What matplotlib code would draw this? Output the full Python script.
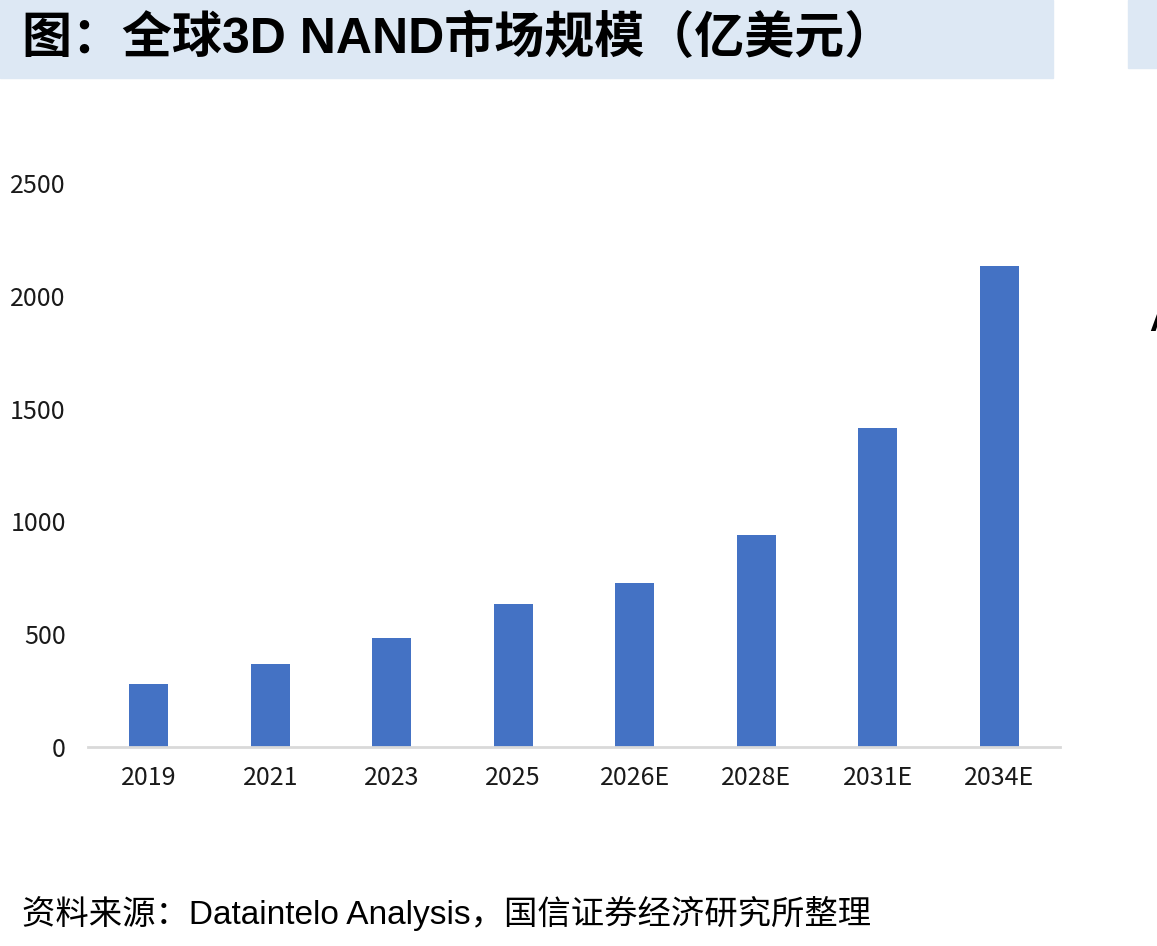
import matplotlib
matplotlib.use("Agg")
import matplotlib.pyplot as plt
from matplotlib.patches import Rectangle

# data (亿美元)
years = ["2019", "2021", "2023", "2025", "2026E", "2028E", "2031E", "2034E"]
market_size = [280, 368, 483, 634, 725, 940, 1414, 2132]
y_ticks = [0, 500, 1000, 1500, 2000, 2500]

title_text = "图：全球3D NAND市场规模（亿美元）"
source_text = "资料来源：Dataintelo Analysis，国信证券经济研究所整理"

W, H = 1157, 946
fig = plt.figure(figsize=(W / 100, H / 100), dpi=100)
fig.patch.set_facecolor("white")

# title band
band = "#dde8f4"
fig.patches.append(Rectangle((0, 1 - 78 / H), 1053 / W, 78 / H,
                             transform=fig.transFigure, color=band, zorder=0))
fig.patches.append(Rectangle((1128 / W, 1 - 68 / H), (W - 1128) / W, 68 / H,
                             transform=fig.transFigure, color=band, zorder=0))
fig.text(22 / W, 1 - 39 / H, title_text, fontsize=36, fontweight="bold",
         family=["Liberation Sans", "Noto Sans CJK SC"], va="center", ha="left")

# cut-off letter from neighbouring panel (also cut off in the reference)
fig.text(1149 / W, 1 - 322 / H, "A", fontsize=24, fontweight="bold",
         family=["Liberation Sans"], va="center", ha="left")

ax = fig.add_axes([88 / W, (H - 747) / H, (1060 - 88) / W, (747 - 183) / H])
x = range(len(years))
ax.bar(x, market_size, width=0.32, color="#4472c4", zorder=2)
ax.set_xlim(-0.5, len(years) - 0.5)
ax.set_ylim(0, 2500)
ax.set_yticks(y_ticks)
ax.set_yticklabels([str(v) for v in y_ticks])
ax.set_xticks(list(x))
ax.set_xticklabels(years)

for s in ["top", "right", "left"]:
    ax.spines[s].set_visible(False)
ax.spines["bottom"].set_color("#d9d9d9")
ax.spines["bottom"].set_linewidth(2)
ax.tick_params(axis="both", length=0, labelsize=18, colors="#1a1a1a")
ax.tick_params(axis="y", pad=16)
ax.tick_params(axis="x", pad=13)
for lbl in ax.get_xticklabels() + ax.get_yticklabels():
    lbl.set_family(["Noto Sans CJK SC"])

fig.text(22 / W, 1 - 913 / H, source_text, fontsize=24,
         family=["Liberation Sans", "Noto Sans CJK SC"], va="center", ha="left")

fig.savefig("out.png", dpi=100)
